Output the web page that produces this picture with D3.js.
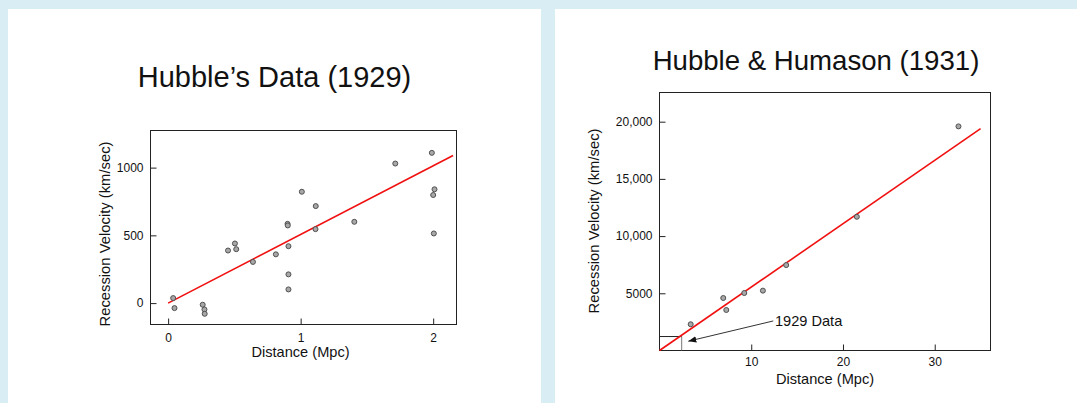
<!DOCTYPE html>
<html><head><meta charset="utf-8">
<script src="https://cdn.jsdelivr.net/npm/d3@7"></script>
<style>
html,body{margin:0;padding:0;background:#d9edf5;}
svg{display:block;font-family:"Liberation Sans",Arial,Helvetica,sans-serif;}
</style></head>
<body>
<svg id="c" width="1077" height="403"></svg>
<script>
// ---- Data: Hubble 1929 ----
const hubble1929Distance = [0.038,0.048,0.261,0.274,0.276,0.452,0.504,0.514,0.640,0.813,0.901,0.903,0.908,0.908,0.908,1.009,1.114,1.112,1.405,1.714,1.990,2.010,2.000,2.005];
const hubble1929Velocity = [37,-37,-12,-47,-79,388,440,398,304,360,585,573,420,212,101,822,716,546,600,1030,1109,840,798,514];
const hubble1929Fit = [[0,0],[2.15,1089]];
const leftXTicks = [0,1,2];
const leftXTickLabels = ["0","1","2"];
const leftYTicks = [0,500,1000];
const leftYTickLabels = ["0","500","1000"];

// ---- Data: Hubble & Humason 1931 ----
const hh1931Distance = [3.40,6.95,7.28,9.24,11.27,13.81,21.51,32.59];
const hh1931Velocity = [2294,4588,3541,5024,5233,7466,11687,19588];
const hh1931Fit = [[0,0],[35,19390]];
const box1929 = [2.42,1220];
const arrow1929 = [[12.4,2582],[3.14,811]];
const label1929 = {text:"1929 Data", x:12.58, y:2145};
const rightXTicks = [10,20,30];
const rightXTickLabels = ["10","20","30"];
const rightYTicks = [5000,10000,15000,20000];
const rightYTickLabels = ["5000","10,000","15,000","20,000"];

const svg = d3.select("#c");
svg.append("rect").attr("x",8).attr("y",9).attr("width",533).attr("height",394).attr("fill","#fff");
svg.append("rect").attr("x",555).attr("y",9).attr("width",522).attr("height",394).attr("fill","#fff");

svg.append("defs").append("marker").attr("id","ah").attr("viewBox","0 0 10 10")
  .attr("refX",10).attr("refY",5).attr("markerWidth",8).attr("markerHeight",8)
  .attr("markerUnits","userSpaceOnUse").attr("orient","auto")
  .append("path").attr("d","M0,1 L10,5 L0,9 Z").attr("fill","#111");

function panel(o){
  const g = svg.append("g");
  const x = d3.scaleLinear().domain(o.xd).range(o.xr);
  const y = d3.scaleLinear().domain(o.yd).range(o.yr);
  g.append("text").attr("x",o.title.x).attr("y",o.title.y).attr("text-anchor","middle")
    .attr("font-size",o.title.size).attr("fill","#111").text(o.title.text);
  const ax = g.append("g").attr("transform",`translate(0,${o.yr[0]})`)
    .call(d3.axisBottom(x).tickValues(o.xt).tickFormat((d,i)=>o.xtl[i]).tickSize(-6).tickPadding(o.xpad));
  const ay = g.append("g").attr("transform",`translate(${o.xr[0]},0)`)
    .call(d3.axisLeft(y).tickValues(o.yt).tickFormat((d,i)=>o.ytl[i]).tickSize(-6).tickPadding(7));
  [ax,ay].forEach(a=>{
    a.select(".domain").remove();
    a.selectAll("line").attr("stroke","#222");
    a.selectAll("text").attr("font-size",12).attr("fill","#111")
      .attr("font-family","'Liberation Sans',Arial,sans-serif");
  });
  g.append("rect").attr("x",o.xr[0]).attr("y",o.yr[1]).attr("width",o.xr[1]-o.xr[0])
    .attr("height",o.yr[0]-o.yr[1]).attr("fill","none").attr("stroke","#222").attr("stroke-width",1);
  g.append("text").attr("x",o.xlab.x).attr("y",o.xlab.y).attr("text-anchor","middle")
    .attr("font-size",14.6).attr("fill","#111").text("Distance (Mpc)");
  g.append("text").attr("transform",`translate(${o.ylab.x},${o.ylab.y}) rotate(-90)`).attr("text-anchor","middle")
    .attr("font-size",14.8).attr("fill","#111").text("Recession Velocity (km/sec)");
  return {g,x,y};
}

// Left panel
const L = panel({
  xd:[-0.133,2.176], xr:[150.5,456.5], yd:[-158,1274], yr:[324.5,130.5],
  xt:leftXTicks, xtl:leftXTickLabels, yt:leftYTicks, ytl:leftYTickLabels, xpad:9,
  title:{text:"Hubble\u2019s Data (1929)", x:274.5, y:86.5, size:29},
  xlab:{x:300.5,y:357}, ylab:{x:109.5,y:234}
});
L.g.append("path").datum(hubble1929Fit)
  .attr("d",d3.line().x(d=>L.x(d[0])).y(d=>L.y(d[1])))
  .attr("stroke","#f01010").attr("stroke-width",1.6).attr("fill","none");
L.g.selectAll("circle.p").data(hubble1929Distance).join("circle")
  .attr("cx",d=>L.x(d)).attr("cy",(d,i)=>L.y(hubble1929Velocity[i])).attr("r",2.5)
  .attr("fill","#a8a8a8").attr("stroke","#505050").attr("stroke-width",1);

// Right panel
const R = panel({
  xd:[0,36.08], xr:[659.5,990.5], yd:[0,22550], yr:[350.5,92.5],
  xt:rightXTicks, xtl:rightXTickLabels, yt:rightYTicks, ytl:rightYTickLabels, xpad:7,
  title:{text:"Hubble & Humason (1931)", x:816, y:69.5, size:27.6},
  xlab:{x:825,y:384}, ylab:{x:598.5,y:221}
});
R.g.append("line").attr("x1",R.x(0)).attr("x2",R.x(box1929[0])).attr("y1",R.y(box1929[1])).attr("y2",R.y(box1929[1]))
  .attr("stroke","#222").attr("stroke-width",1);
R.g.append("line").attr("x1",R.x(box1929[0])).attr("x2",R.x(box1929[0])).attr("y1",R.y(box1929[1])).attr("y2",R.y(0))
  .attr("stroke","#777").attr("stroke-width",1);
R.g.append("path").datum(hh1931Fit)
  .attr("d",d3.line().x(d=>R.x(d[0])).y(d=>R.y(d[1])))
  .attr("stroke","#f01010").attr("stroke-width",1.6).attr("fill","none");
R.g.selectAll("circle.p").data(hh1931Distance).join("circle")
  .attr("cx",d=>R.x(d)).attr("cy",(d,i)=>R.y(hh1931Velocity[i])).attr("r",2.5)
  .attr("fill","#a8a8a8").attr("stroke","#505050").attr("stroke-width",1);
R.g.append("line").attr("x1",R.x(arrow1929[0][0])).attr("y1",R.y(arrow1929[0][1]))
  .attr("x2",R.x(arrow1929[1][0])).attr("y2",R.y(arrow1929[1][1]))
  .attr("stroke","#333").attr("stroke-width",1).attr("marker-end","url(#ah)");
R.g.append("text").attr("x",R.x(label1929.x)).attr("y",R.y(label1929.y))
  .attr("font-size",14.6).attr("fill","#111").text(label1929.text);
</script>
</body></html>
